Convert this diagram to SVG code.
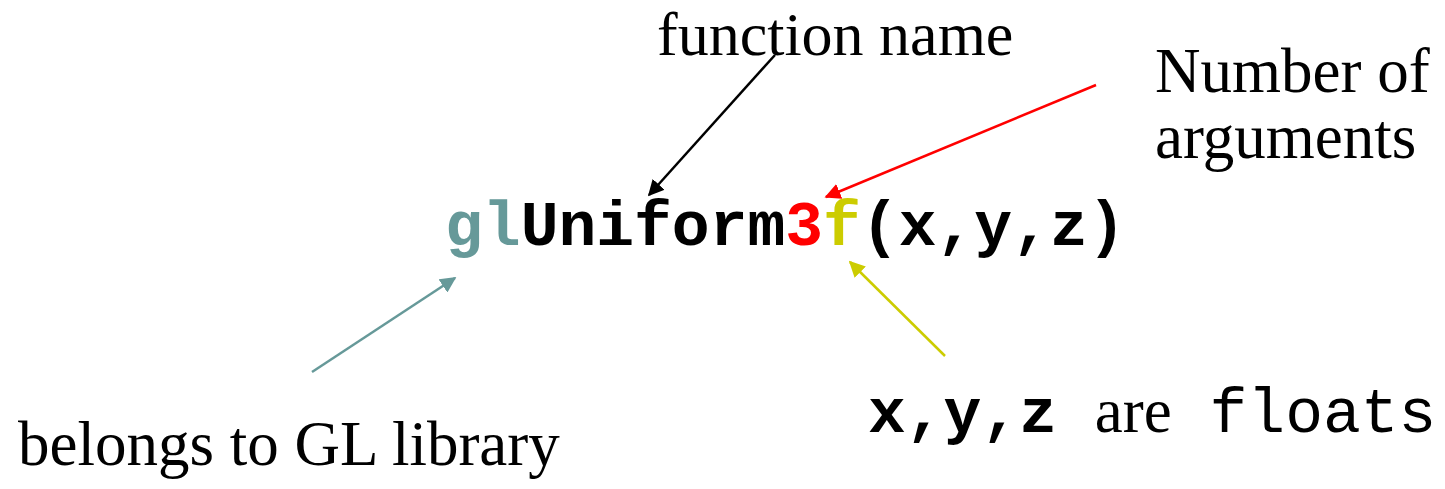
<svg xmlns="http://www.w3.org/2000/svg" width="1445" height="489" viewBox="0 0 1445 489">
<defs>
<style>
.serif{font-family:"Liberation Serif","Times New Roman",serif;font-size:63px;fill:#000}
.mono{font-family:"Liberation Mono","Courier New",monospace;font-size:63px}
.b{font-weight:bold}
.conn{stroke-width:2.5;fill:none}
</style>
<marker id="ah-black" viewBox="0 0 10 10" refX="9" refY="5" markerWidth="6.4" markerHeight="6.4" orient="auto" markerUnits="strokeWidth"><path d="M0,0 L10,5 L0,10 z" fill="#000"/></marker>
<marker id="ah-red" viewBox="0 0 10 10" refX="9" refY="5" markerWidth="6.4" markerHeight="6.4" orient="auto" markerUnits="strokeWidth"><path d="M0,0 L10,5 L0,10 z" fill="#ff0000"/></marker>
<marker id="ah-teal" viewBox="0 0 10 10" refX="9" refY="5" markerWidth="6.4" markerHeight="6.4" orient="auto" markerUnits="strokeWidth"><path d="M0,0 L10,5 L0,10 z" fill="#669999"/></marker>
<marker id="ah-yellow" viewBox="0 0 10 10" refX="9" refY="5" markerWidth="6.4" markerHeight="6.4" orient="auto" markerUnits="strokeWidth"><path d="M0,0 L10,5 L0,10 z" fill="#cccc00"/></marker>
</defs>
<rect width="1445" height="489" fill="#fff"/>
<g id="connectors">
<line class="conn" x1="775" y1="55" x2="649" y2="195" stroke="#000" marker-end="url(#ah-black)"/>
<line class="conn" x1="1096" y1="85" x2="826" y2="197" stroke="#ff0000" marker-end="url(#ah-red)"/>
<line class="conn" x1="312" y1="372" x2="455" y2="278" stroke="#669999" marker-end="url(#ah-teal)"/>
<line class="conn" x1="945" y1="356" x2="850" y2="262" stroke="#cccc00" marker-end="url(#ah-yellow)"/>
</g>
<g id="function-call">
<text class="mono b" x="445" y="245"><tspan fill="#669999">gl</tspan><tspan fill="#000">Uniform</tspan><tspan fill="#ff0000">3</tspan><tspan fill="#cccc00">f</tspan><tspan fill="#000">(x,y,z)</tspan></text>
</g>
<g id="label-function-name">
<text class="serif" x="657" y="55" style="font-size:62px">function name</text>
</g>
<g id="label-number-of-arguments">
<text class="serif" x="1155" y="92">Number of</text>
<text class="serif" x="1155" y="158">arguments</text>
</g>
<g id="label-gl-library">
<text class="serif" x="18" y="465">belongs to GL library</text>
</g>
<g id="label-floats">
<text x="868" y="432"><tspan class="mono b">x,y,z</tspan><tspan class="mono"> </tspan><tspan class="serif">are</tspan><tspan class="mono"> floats</tspan></text>
</g>
</svg>
